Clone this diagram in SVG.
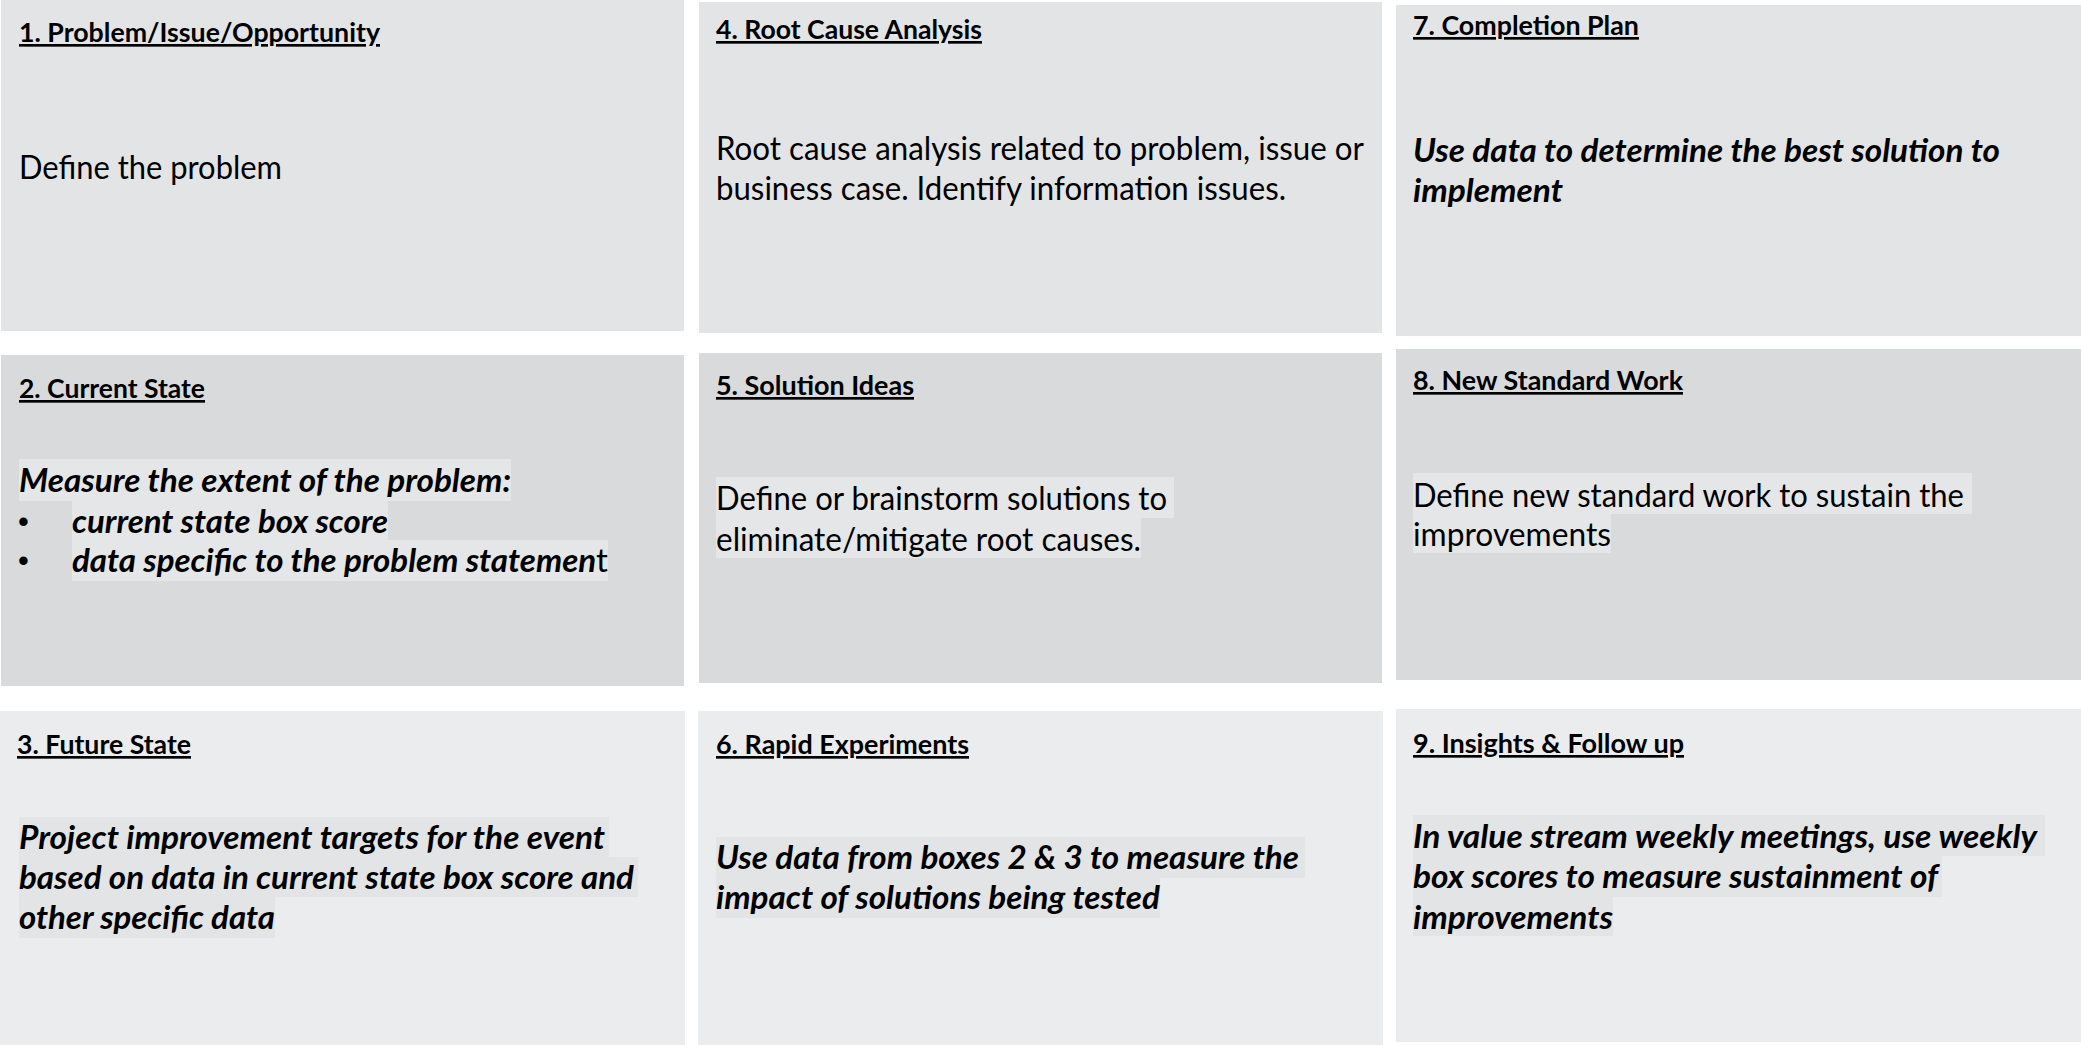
<svg xmlns="http://www.w3.org/2000/svg" width="2081" height="1045" viewBox="0 0 2081 1045">
<style>
.r1{fill:#e3e4e6}
.r2{fill:#d9dadc}
.r3{fill:#ebecee}
.hl2{fill:#e5e6e8}
.hl3{fill:#e3e4e6}
.t{font-family:Lato,"Open Sans","Liberation Sans",sans-serif;font-weight:bold;font-size:26.67px;fill:#000;text-decoration:underline}
.b{font-family:Lato,"Open Sans","Liberation Sans",sans-serif;font-size:32px;fill:#000}
.bi{font-family:Lato,"Open Sans","Liberation Sans",sans-serif;font-size:32px;font-weight:bold;font-style:italic;fill:#000}
.bul{font-family:"Liberation Sans",sans-serif;font-size:31px;fill:#000}
</style>
<rect width="2081" height="1045" fill="#ffffff"/>
<g id="connectors"/>
<g id="box1">
<rect class="r1" x="1" y="0" width="683" height="331"/>
<text class="t" x="19" y="42" textLength="361" lengthAdjust="spacingAndGlyphs">1. Problem/Issue/Opportunity</text>
<text class="b" x="19" y="179" textLength="263" lengthAdjust="spacingAndGlyphs">Define the problem</text>
</g>
<g id="box4">
<rect class="r1" x="699" y="2" width="683" height="331"/>
<text class="t" x="716" y="39" textLength="266" lengthAdjust="spacingAndGlyphs">4. Root Cause Analysis</text>
<text class="b" x="716" y="160" textLength="648" lengthAdjust="spacingAndGlyphs">Root cause analysis related to problem, issue or</text>
<text class="b" x="716" y="200" textLength="570" lengthAdjust="spacingAndGlyphs">business case. Identify information issues.</text>
</g>
<g id="box7">
<rect class="r1" x="1396" y="5" width="685" height="331"/>
<text class="t" x="1413" y="35" textLength="226" lengthAdjust="spacingAndGlyphs">7. Completion Plan</text>
<text class="bi" x="1413" y="162" textLength="587" lengthAdjust="spacingAndGlyphs">Use data to determine the best solution to</text>
<text class="bi" x="1413" y="202" textLength="150" lengthAdjust="spacingAndGlyphs">implement</text>
</g>
<g id="box2">
<rect class="r2" x="1" y="355" width="683" height="331"/>
<text class="t" x="19" y="398" textLength="186" lengthAdjust="spacingAndGlyphs">2. Current State</text>
<rect class="hl2" x="19" y="459" width="492" height="42"/>
<rect class="hl2" x="72" y="501" width="316" height="39"/>
<rect class="hl2" x="72" y="540" width="536" height="41"/>
<text class="bi" x="19" y="492" textLength="492" lengthAdjust="spacingAndGlyphs">Measure the extent of the problem:</text>
<text class="bul" x="18" y="532">•</text>
<text class="bi" x="72" y="533" textLength="316" lengthAdjust="spacingAndGlyphs">current state box score</text>
<text class="bul" x="18" y="571">•</text>
<text class="bi" x="72" y="572" textLength="536" lengthAdjust="spacingAndGlyphs">data specific to the problem statemen<tspan font-weight="normal" font-style="normal">t</tspan></text>
</g>
<g id="box5">
<rect class="r2" x="699" y="353" width="683" height="330"/>
<text class="t" x="716" y="395" textLength="198" lengthAdjust="spacingAndGlyphs">5. Solution Ideas</text>
<rect class="hl2" x="716" y="477" width="458" height="41"/>
<rect class="hl2" x="716" y="518" width="425" height="40"/>
<text class="b" x="716" y="510" textLength="451" lengthAdjust="spacingAndGlyphs">Define or brainstorm solutions to</text>
<text class="b" x="716" y="551" textLength="425" lengthAdjust="spacingAndGlyphs">eliminate/mitigate root causes.</text>
</g>
<g id="box8">
<rect class="r2" x="1396" y="349" width="685" height="331"/>
<text class="t" x="1413" y="390" textLength="270" lengthAdjust="spacingAndGlyphs">8. New Standard Work</text>
<rect class="hl2" x="1413" y="473" width="559" height="41"/>
<rect class="hl2" x="1413" y="514" width="198" height="39"/>
<text class="b" x="1413" y="507" textLength="551" lengthAdjust="spacingAndGlyphs">Define new standard work to sustain the</text>
<text class="b" x="1413" y="546" textLength="198" lengthAdjust="spacingAndGlyphs">improvements</text>
</g>
<g id="box3">
<rect class="r3" x="0" y="711" width="685" height="334"/>
<text class="t" x="17" y="754" textLength="174" lengthAdjust="spacingAndGlyphs">3. Future State</text>
<rect class="hl3" x="19" y="817" width="590" height="40"/>
<rect class="hl3" x="19" y="857" width="619" height="40"/>
<rect class="hl3" x="19" y="897" width="256" height="41"/>
<text class="bi" x="19" y="849" textLength="586" lengthAdjust="spacingAndGlyphs">Project improvement targets for the event</text>
<text class="bi" x="19" y="889" textLength="615" lengthAdjust="spacingAndGlyphs">based on data in current state box score and</text>
<text class="bi" x="19" y="929" textLength="256" lengthAdjust="spacingAndGlyphs">other specific data</text>
</g>
<g id="box6">
<rect class="r3" x="698" y="711" width="685" height="334"/>
<text class="t" x="716" y="754" textLength="253" lengthAdjust="spacingAndGlyphs">6. Rapid Experiments</text>
<rect class="hl3" x="716" y="837" width="589" height="41"/>
<rect class="hl3" x="716" y="878" width="444" height="40"/>
<text class="bi" x="716" y="869" textLength="583" lengthAdjust="spacingAndGlyphs">Use data from boxes 2 &amp; 3 to measure the</text>
<text class="bi" x="716" y="909" textLength="444" lengthAdjust="spacingAndGlyphs">impact of solutions being tested</text>
</g>
<g id="box9">
<rect class="r3" x="1396" y="709" width="685" height="333"/>
<text class="t" x="1413" y="753" textLength="271" lengthAdjust="spacingAndGlyphs">9. Insights &amp; Follow up</text>
<rect class="hl3" x="1413" y="815" width="632" height="41"/>
<rect class="hl3" x="1413" y="856" width="529" height="41"/>
<rect class="hl3" x="1413" y="897" width="200" height="39"/>
<text class="bi" x="1413" y="848" textLength="624" lengthAdjust="spacingAndGlyphs">In value stream weekly meetings, use weekly</text>
<text class="bi" x="1413" y="888" textLength="525" lengthAdjust="spacingAndGlyphs">box scores to measure sustainment of</text>
<text class="bi" x="1413" y="929" textLength="200" lengthAdjust="spacingAndGlyphs">improvements</text>
</g>
</svg>
